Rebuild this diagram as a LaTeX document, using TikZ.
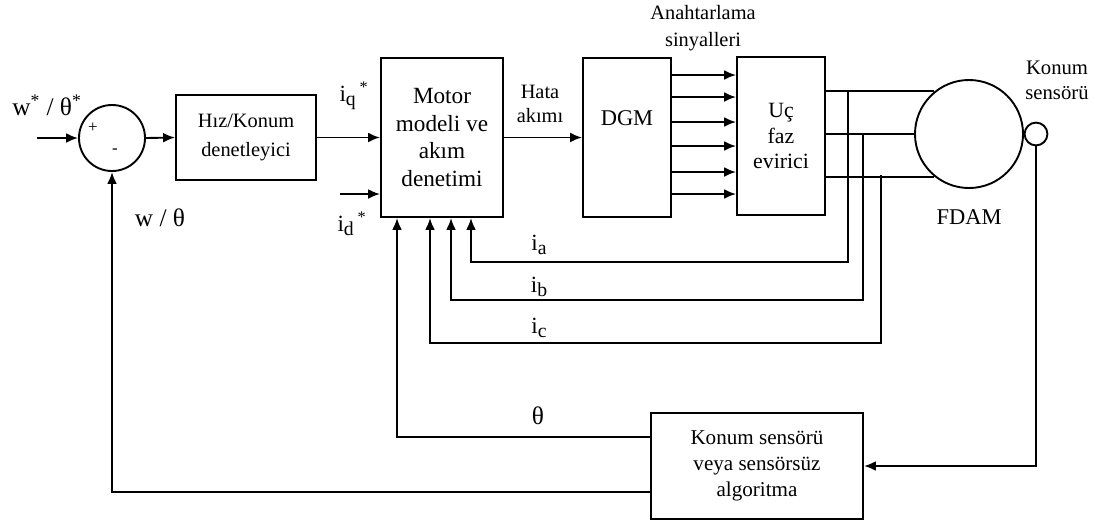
\documentclass[tikz,border=0pt]{standalone}
\usepackage{fontspec}
\setmainfont{Liberation Serif}
\usetikzlibrary{arrows.meta}
\newcommand{\altind}[1]{\raisebox{-0.4ex}{\scalebox{0.85}{#1}}}

\begin{document}
\begin{tikzpicture}[x=0.025cm,y=-0.025cm,>={Latex[length=8.5pt,width=7pt]},
  line width=1.35pt,
  blok/.style={draw,rectangle,inner sep=0pt,align=center},
  yazi/.style={inner sep=0pt,align=center}]
  \useasboundingbox (0,0) rectangle (1095,522);
  % bloklar
  \node[draw,circle,minimum size=1.65cm,inner sep=0pt] (S) at (112,138) {};
  \node[blok,minimum width=3.5cm,minimum height=2.125cm,font=\fontsize{14.5}{20}\selectfont] (HK) at (246,137.5) {Hız/Konum\\denetleyici};
  \node[blok,minimum width=3.05cm,minimum height=3.975cm,font=\fontsize{16.5}{19.5}\selectfont] (MM) at (442,137.5) {Motor\\modeli ve\\akım\\denetimi};
  \node[blok,minimum width=2.2cm,minimum height=3.975cm,text depth=0.98cm,font=\fontsize{16}{18}\selectfont] (DGM) at (627,137.5) {DGM};
  \node[blok,minimum width=2.2cm,minimum height=3.95cm,font=\fontsize{15.5}{18}\selectfont] (EV) at (781,136) {Uç\\faz\\evirici};
  \node[draw,circle,minimum size=2.7cm,inner sep=0pt] (M) at (969,134) {};
  \node[draw,circle,minimum size=0.57cm,inner sep=0pt] (KS) at (1036,134) {};
  \node[blok,minimum width=5.3cm,minimum height=2.65cm,font=\fontsize{15}{18.5}\selectfont] (ALG) at (757,466) {Konum sensörü\\veya sensörsüz\\algoritma};
  % yazilar
  \node[yazi,font=\fontsize{12}{13}\selectfont] (art) at (93,128) {+};
  \node[yazi,font=\fontsize{12}{13}\selectfont] (eks) at (115,151) {-};
  \node[yazi,font=\fontsize{18}{20}\selectfont] (wref) at (47,105) {w\textsuperscript{*} / θ\textsuperscript{*}};
  \node[yazi,font=\fontsize{18}{20}\selectfont] (wth) at (160,218) {w / θ};
  \node[yazi,font=\fontsize{16.5}{20}\selectfont] (iq) at (354,96) {i\altind{q}\,\textsuperscript{*}};
  \node[yazi,font=\fontsize{16.5}{20}\selectfont] (id) at (352,224) {i\altind{d}\,\textsuperscript{*}};
  \node[yazi,font=\fontsize{14.5}{17}\selectfont] (hata) at (540,104) {Hata\\akımı};
  \node[yazi,font=\fontsize{14.5}{19}\selectfont] (anah) at (703,28) {Anahtarlama\\sinyalleri};
  \node[yazi,font=\fontsize{16}{19}\selectfont] (fdam) at (969,217) {FDAM};
  \node[yazi,font=\fontsize{14.7}{18}\selectfont] (kon) at (1057,80) {Konum\\sensörü};
  \node[yazi,font=\fontsize{16.5}{20}\selectfont] (ia) at (539,245) {i\altind{a}};
  \node[yazi,font=\fontsize{16.5}{20}\selectfont] (ib) at (539,287) {i\altind{b}};
  \node[yazi,font=\fontsize{16.5}{20}\selectfont] (ic) at (539,328) {i\altind{c}};
  \node[yazi,font=\fontsize{18}{20}\selectfont] (th) at (538,416) {θ};
  % ileri yol
  \coordinate (G) at (37,138);
  \coordinate (D) at (340,194);
  \draw[->] (G) -- (S.west);
  \draw[->] (S.east) -- (HK.west);
  \draw[->] (HK.east) -- (MM.west |- HK.east);
  \draw[->] (D) -- (MM.west |- D);
  \draw[->] (MM.east) -- (DGM.west |- MM.east);
  \foreach \y in {75,97,122,146,172,194}
    \draw[->] (DGM.east |- 0,\y) -- (EV.west |- 0,\y);
  \draw (EV.east |- M.129) -- (M.129);
  \draw (EV.east |- M.west) -- (M.west);
  \draw (EV.east |- M.231) -- (M.231);
  % akim geri beslemeleri
  \coordinate (A) at (848,92);
  \coordinate (B) at (863,134);
  \coordinate (C) at (881,175);
  \draw[->] (A) -- (848,262) -- (471,262) -- (MM.south -| 471,0);
  \draw[->] (B) -- (863,300) -- (451,300) -- (MM.south -| 451,0);
  \draw[->] (C) -- (881,343) -- (430,343) -- (MM.south -| 430,0);
  % konum geri beslemesi
  \draw[->] (ALG.west |- 0,437) -- (397,437) -- (MM.south -| 397,0);
  \draw[->] (ALG.west |- 0,492) -- (S.south |- 0,492) -- (S.south);
  \draw[->] (KS.south) -- (KS.south |- ALG.east) -- (ALG.east);
\end{tikzpicture}
\end{document}
